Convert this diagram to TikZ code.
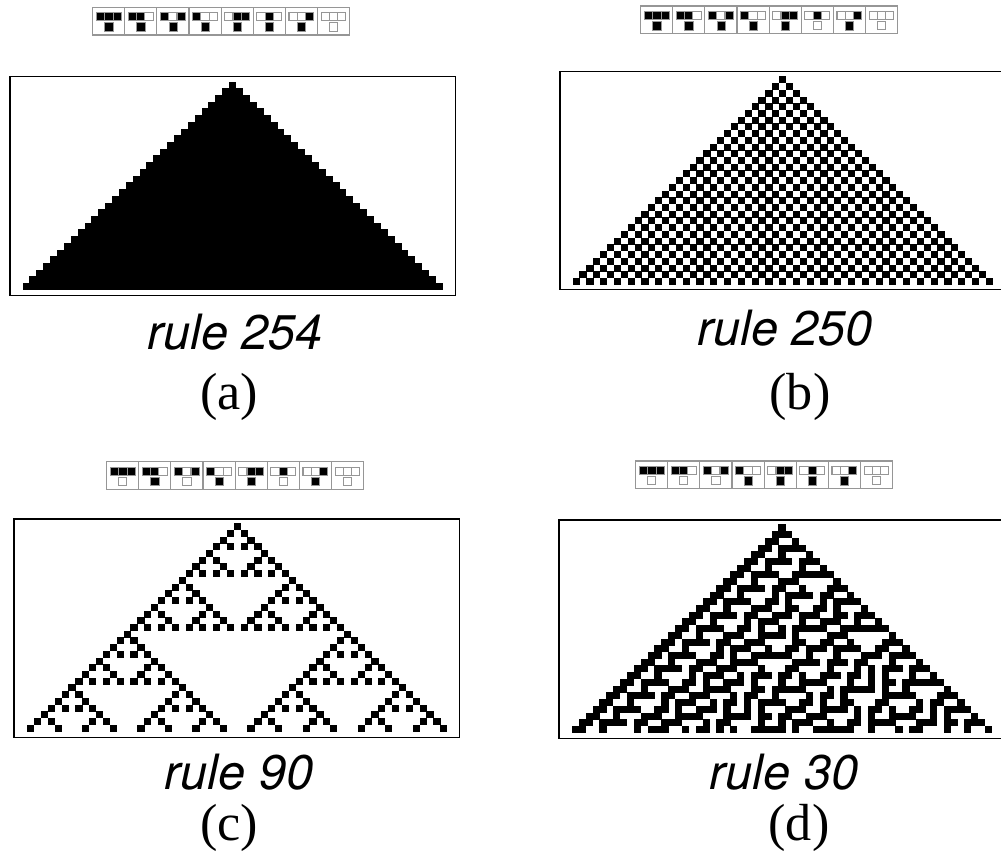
\documentclass[tikz,border=0pt]{standalone}
\usepackage{fontspec}
\setmainfont{Liberation Serif}
\newfontfamily\rulefont{TeX Gyre Heros}
\definecolor{iconStroke}{RGB}{150,150,150}
\colorlet{ink}{black}
\tikzset{
  frame/.style={draw=ink, line width=0.9pt},
  cellon/.style={fill=ink},
  iconbox/.style={draw=iconStroke, fill=white, line width=0.6pt},
  iconon/.style={fill=ink, draw=iconStroke, line width=0.3pt},
  iconoff/.style={fill=white, draw=iconStroke, line width=0.6pt},
  rulelabel/.style={anchor=base, inner sep=0pt, font=\rulefont\itshape\fontsize{27.7}{30}\selectfont},
  caption/.style={anchor=base, inner sep=0pt, font=\fontsize{29.7}{32}\selectfont}
}
\newcommand\CellW{6.885}
\newcommand\CellH{6.72}
\newcommand\CellPad{0.15}
% outputs of one rule, patterns 111 ... 000
\newcommand\SetRule[9]{%
  \expandafter\gdef\csname cab#1:7\endcsname{#2}%
  \expandafter\gdef\csname cab#1:6\endcsname{#3}%
  \expandafter\gdef\csname cab#1:5\endcsname{#4}%
  \expandafter\gdef\csname cab#1:4\endcsname{#5}%
  \expandafter\gdef\csname cab#1:3\endcsname{#6}%
  \expandafter\gdef\csname cab#1:2\endcsname{#7}%
  \expandafter\gdef\csname cab#1:1\endcsname{#8}%
  \expandafter\gdef\csname cab#1:0\endcsname{#9}%
}
\newcommand\CAget[3]{%
  \ifcsname ca#1:\the\numexpr#2\relax:\the\numexpr#3\relax\endcsname
    \csname ca#1:\the\numexpr#2\relax:\the\numexpr#3\relax\endcsname\else0\fi}
% rule icons: tag, left x, top y
\newcommand\RuleIcons[3]{%
  \foreach \slot/\pa/\pb/\pc in {0/1/1/1,1/1/1/0,2/1/0/1,3/1/0/0,4/0/1/1,5/0/1/0,6/0/0/1,7/0/0/0}{
    \draw[iconbox] ({#2+32.1*\slot},#3) rectangle ({#2+32.1*(\slot+1)},{#3+27.7});
    \foreach \j/\b in {0/\pa,1/\pb,2/\pc}{
      \ifnum\b=1
        \draw[iconon] ({#2+32.1*\slot+3.7+8.2*\j},{#3+5.4}) rectangle ++(8.2,8);
      \else
        \draw[iconoff] ({#2+32.1*\slot+3.7+8.2*\j},{#3+5.4}) rectangle ++(8.2,8);
      \fi
    }
    \ifnum\csname cab#1:\the\numexpr7-\slot\relax\endcsname=1
      \draw[iconon] ({#2+32.1*\slot+11.95},{#3+15.4}) rectangle ++(8.2,8.4);
    \else
      \draw[iconoff] ({#2+32.1*\slot+11.95},{#3+15.4}) rectangle ++(8.2,8.4);
    \fi
  }
}
% evolution: tag, apex centre x, top y
\newcommand\RunRule[3]{%
  \expandafter\gdef\csname ca#1:0:0\endcsname{1}%
  \fill[cellon] ({#2-0.5*\CellW-\CellPad},{#3-\CellPad}) rectangle ++({\CellW+2*\CellPad},{\CellH+2*\CellPad});
  \foreach \ry in {1,...,30}{
    \foreach \cx in {-30,...,30}{
      \expandafter\xdef\csname ca#1:\ry:\the\numexpr\cx\relax\endcsname{\csname cab#1:\the\numexpr4*\CAget{#1}{\ry-1}{\cx-1}+2*\CAget{#1}{\ry-1}{\cx}+\CAget{#1}{\ry-1}{\cx+1}\relax\endcsname}%
      \ifnum\CAget{#1}{\ry}{\cx}=1
        \fill[cellon] ({#2+(\cx-0.5)*\CellW-\CellPad},{#3+\ry*\CellH-\CellPad}) rectangle ++({\CellW+2*\CellPad},{\CellH+2*\CellPad});
      \fi
    }
  }
}
\SetRule{a}11111110
\SetRule{b}11111010
\SetRule{c}01011010
\SetRule{d}00011110

\begin{document}
\begin{tikzpicture}[x=0.02cm,y=-0.02cm]
  \useasboundingbox (0,0) rectangle (1001,858);
  \clip (0,0) rectangle (1001,858);

  % (a) rule 254
  \RuleIcons{a}{92.7}{7.3}
  \draw[frame] (9.8,76.5) rectangle (455.5,295.7);
  \RunRule{a}{232.7}{81.7}
  \node[rulelabel] (lbla) at (235,350) {rule 254};
  \node[caption] (capa) at (229,409) {(a)};

  % (b) rule 250
  \RuleIcons{b}{640.7}{6}
  \draw[frame] (1004,71.5) -- (560,71.5) -- (560,289.5) -- (1004,289.5);
  \RunRule{b}{782.7}{76.5}
  \node[rulelabel] (lblb) at (785,345) {rule 250};
  \node[caption] (capb) at (800,409) {(b)};

  % (c) rule 90
  \RuleIcons{c}{106.7}{461.7}
  \draw[frame] (14,518.8) rectangle (459.5,737.7);
  \RunRule{c}{237.3}{523.3}
  \node[rulelabel] (lblc) at (239,789) {rule 90};
  \node[caption] (capc) at (229,840) {(c)};

  % (d) rule 30
  \RuleIcons{d}{635.7}{461}
  \draw[frame] (1004,519.8) -- (559,519.8) -- (559,738.5) -- (1004,738.5);
  \RunRule{d}{782}{524.5}
  \node[rulelabel] (lbld) at (784,789) {rule 30};
  \node[caption] (capd) at (799,840) {(d)};
\end{tikzpicture}
\end{document}
